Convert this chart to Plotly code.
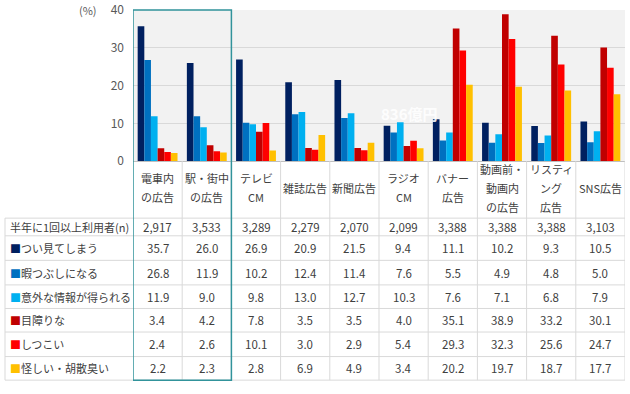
import plotly.graph_objects as go

# ---------------- data ----------------
categories = ["電車内\nの広告", "駅・街中\nの広告", "テレビ\nCM", "雑誌広告", "新聞広告",
              "ラジオ\nCM", "バナー\n広告", "動画前・\n動画内\nの広告", "リスティ\nング\n広告", "SNS広告"]
n_label = "半年に1回以上利用者(n)"
n_values = ["2,917", "3,533", "3,289", "2,279", "2,070", "2,099", "3,388", "3,388", "3,388", "3,103"]

series_names = ["つい見てしまう", "暇つぶしになる", "意外な情報が得られる", "目障りな", "しつこい", "怪しい・胡散臭い"]
s_tsui = [35.7, 26.0, 26.9, 20.9, 21.5, 9.4, 11.1, 10.2, 9.3, 10.5]
s_hima = [26.8, 11.9, 10.2, 12.4, 11.4, 7.6, 5.5, 4.9, 4.8, 5.0]
s_igai = [11.9, 9.0, 9.8, 13.0, 12.7, 10.3, 7.6, 7.1, 6.8, 7.9]
s_mezawari = [3.4, 4.2, 7.8, 3.5, 3.5, 4.0, 35.1, 38.9, 33.2, 30.1]
s_shitsukoi = [2.4, 2.6, 10.1, 3.0, 2.9, 5.4, 29.3, 32.3, 25.6, 24.7]
s_ayashii = [2.2, 2.3, 2.8, 6.9, 4.9, 3.4, 20.2, 19.7, 18.7, 17.7]
series_values = [s_tsui, s_hima, s_igai, s_mezawari, s_shitsukoi, s_ayashii]

y_ticks = [0, 10, 20, 30, 40]
watermark = "836億円"

# ---------------- style ----------------
colors = ["#002060", "#0070C0", "#00B0F0", "#C00000", "#FF0000", "#FFC000"]
W, H = 630, 394
ML, MR, MT, MB = 133, 5, 10, 0
FONT = "Noto Sans CJK JP"
TXT = "#404040"
GRID = "#d9d9d9"
TEAL = "#31939B"


def py(p):
    return (H - MB - p) / (H - MT - MB)


def px(p):
    return (p - ML) / (W - ML - MR)


chart_bottom = 164
rows_px = [222, 240, 265, 290, 314, 338, 363, 387]
header_center = 191
header_spacing = 19.5

idx = list(range(len(categories)))

fig = go.Figure()
for name, vals, col in zip(series_names, series_values, colors):
    fig.add_trace(go.Bar(x=idx, y=vals, name=name, marker=dict(color=col, line=dict(width=0)),
                         showlegend=False))

shapes = []
annotations = []

# header category labels
for i, cat in enumerate(categories):
    lines = cat.split("\n")
    k = len(lines)
    for j, ln in enumerate(lines):
        yp = header_center + (j - (k - 1) / 2) * header_spacing
        annotations.append(dict(x=i, xref="x", y=py(yp), yref="paper", text=ln, showarrow=False,
                                font=dict(family=FONT, size=11, color=TXT), xanchor="center", yanchor="middle"))

# n row
annotations.append(dict(x=px(8), xref="paper", y=py((rows_px[0] + rows_px[1]) / 2), yref="paper",
                        text=n_label, showarrow=False, xanchor="left", yanchor="middle",
                        font=dict(family=FONT, size=11, color=TXT)))
for i, v in enumerate(n_values):
    annotations.append(dict(x=i, xref="x", y=py((rows_px[0] + rows_px[1]) / 2), yref="paper",
                            text=v, showarrow=False, xanchor="center", yanchor="middle",
                            font=dict(family=FONT, size=11.5, color=TXT)))

# series rows
for r, (name, vals, col) in enumerate(zip(series_names, series_values, colors)):
    yc = py((rows_px[r + 1] + rows_px[r + 2]) / 2)
    annotations.append(dict(x=px(8), xref="paper", y=yc, yref="paper",
                            text=f"<span style='color:{col}'>■</span>{name}", showarrow=False,
                            xanchor="left", yanchor="middle",
                            font=dict(family=FONT, size=11, color=TXT)))
    for i, v in enumerate(vals):
        annotations.append(dict(x=i, xref="x", y=yc, yref="paper", text=f"{v:.1f}", showarrow=False,
                                xanchor="center", yanchor="middle",
                                font=dict(family=FONT, size=11.5, color=TXT)))

# table grid lines
for rp in rows_px:
    shapes.append(dict(type="line", xref="paper", yref="paper", x0=px(5), x1=1, y0=py(rp), y1=py(rp),
                       line=dict(color=GRID, width=1), layer="below"))
shapes.append(dict(type="line", xref="paper", yref="paper", x0=px(5), x1=px(5),
                   y0=py(rows_px[0]), y1=py(rows_px[-1]), line=dict(color=GRID, width=1)))
for i in range(len(categories)):
    shapes.append(dict(type="line", xref="x", yref="paper", x0=i + 0.5, x1=i + 0.5,
                       y0=py(chart_bottom), y1=py(rows_px[-1]), line=dict(color=GRID, width=1)))

# teal highlight box around first two columns
shapes.append(dict(type="rect", xref="x", yref="paper", x0=-0.5, x1=1.5, y0=py(rows_px[-1]), y1=1,
                   line=dict(color=TEAL, width=1.5), fillcolor="rgba(0,0,0,0)"))

# (%) label
annotations.append(dict(x=px(88), xref="paper", y=1, yref="paper", text="(%)", showarrow=False,
                        xanchor="center", yanchor="middle", font=dict(family=FONT, size=11, color="#595959")))

# watermark
annotations.append(dict(x=px(409), xref="paper", y=py(115), yref="paper", text=f"<b>{watermark}</b>",
                        showarrow=False, xanchor="center", yanchor="middle",
                        font=dict(family=FONT, size=15, color="rgba(255,255,255,0.9)")))

fig.update_layout(
    width=W, height=H,
    margin=dict(l=ML, r=MR, t=MT, b=MB, pad=0),
    paper_bgcolor="white",
    plot_bgcolor="#f2f2f2",
    barmode="group", bargap=0.19, bargroupgap=0,
    font=dict(family=FONT, color=TXT),
    xaxis=dict(range=[-0.5, len(categories) - 0.5], showticklabels=False, showgrid=False,
               zeroline=False, showline=True, linecolor="#bfbfbf", linewidth=1, ticks=""),
    yaxis=dict(domain=[py(chart_bottom), 1], range=[0, 40], tickvals=y_ticks, showgrid=True,
               gridcolor=GRID, gridwidth=1, zeroline=False, ticks="", ticklabelstandoff=8,
               tickfont=dict(family=FONT, size=12, color="#595959")),
    shapes=shapes,
    annotations=annotations,
)

fig.write_html("out.html", config={"displayModeBar": False},
               post_script="document.body.style.margin='0';document.body.style.overflow='hidden';")
